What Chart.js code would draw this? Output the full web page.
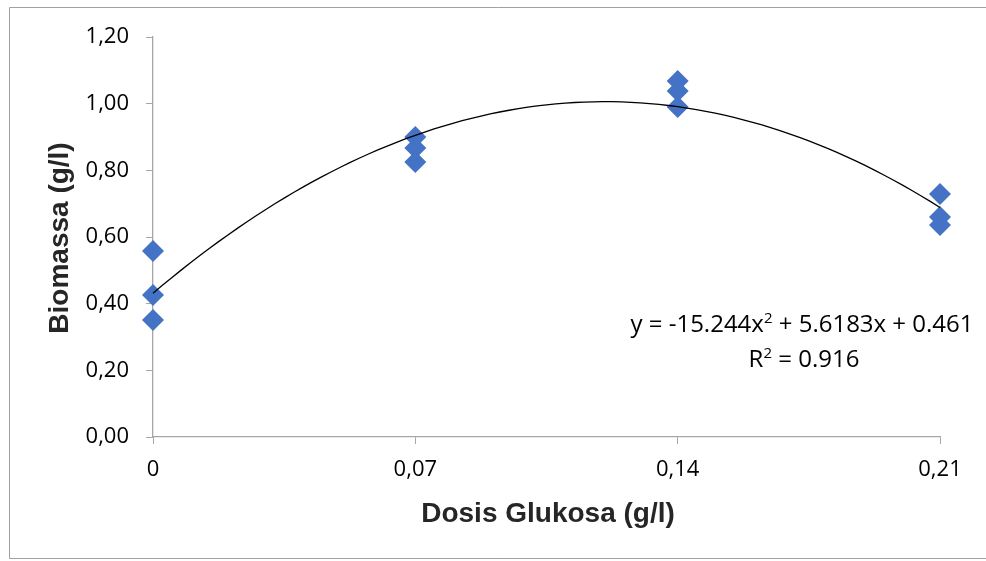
<!DOCTYPE html>
<html>
<head>
<meta charset="utf-8">
<script src="https://cdn.jsdelivr.net/npm/chart.js@4/dist/chart.umd.min.js"></script>
<style>
  html, body { margin: 0; padding: 0; background: #fff; }
  #wrap { width: 986px; height: 561px; position: relative; }
</style>
</head>
<body>
<div id="wrap"><canvas id="chart" width="986" height="561"></canvas></div>
<script>
// data: 3 replicates per glucose dose
const doses = [0, 0, 0, 0.07, 0.07, 0.07, 0.14, 0.14, 0.14, 0.21, 0.21, 0.21];
const biomass = [0.558, 0.426, 0.351, 0.900, 0.867, 0.825, 1.068, 1.038, 0.990, 0.729, 0.660, 0.636];
const xTickLabels = ["0", "0,07", "0,14", "0,21"];
const yTickLabels = ["0,00", "0,20", "0,40", "0,60", "0,80", "1,00", "1,20"];
const xTickValues = [0, 0.07, 0.14, 0.21];
const yTickValues = [0, 0.2, 0.4, 0.6, 0.8, 1.0, 1.2];
const equationLines = ["y = -15.244x", " + 5.6183x + 0.461"];
const r2Line = ["R", " = 0.916"];

const axisColor = "#a6a6a6";
const pointColor = "#4472c4";

// least squares quadratic (trendline) computed from the points
const fitQuadratic = (xs, ys) => {
  let s = [0, 0, 0, 0, 0], t = [0, 0, 0];
  xs.forEach((x, i) => {
    for (let k = 0; k < 5; k++) s[k] += Math.pow(x, k);
    for (let k = 0; k < 3; k++) t[k] += ys[i] * Math.pow(x, k);
  });
  const m = [
    [s[0], s[1], s[2], t[0]],
    [s[1], s[2], s[3], t[1]],
    [s[2], s[3], s[4], t[2]],
  ];
  for (let i = 0; i < 3; i++) {
    for (let j = i + 1; j < 3; j++) {
      const f = m[j][i] / m[i][i];
      for (let k = i; k < 4; k++) m[j][k] -= f * m[i][k];
    }
  }
  const c = [0, 0, 0];
  for (let i = 2; i >= 0; i--) {
    let v = m[i][3];
    for (let k = i + 1; k < 3; k++) v -= m[i][k] * c[k];
    c[i] = v / m[i][i];
  }
  return c;
};
const coef = fitQuadratic(doses, biomass);
const trend = [];
for (let i = 0; i <= 84; i++) {
  const x = (0.21 * i) / 84;
  trend.push({ x: x, y: coef[0] + coef[1] * x + coef[2] * x * x });
}

const extras = {
  id: "extras",
  afterDraw(chart) {
    const ctx = chart.ctx;
    ctx.save();
    // outer frame
    ctx.strokeStyle = "#a0a0a0";
    ctx.lineWidth = 1;
    ctx.beginPath();
    ctx.moveTo(990, 7.5);
    ctx.lineTo(9.5, 7.5);
    ctx.lineTo(9.5, 558.5);
    ctx.lineTo(990, 558.5);
    ctx.stroke();

    // axis titles
    ctx.fillStyle = "#262626";
    ctx.font = "bold 28px 'Liberation Sans', Arial, sans-serif";
    ctx.textAlign = "center";
    ctx.textBaseline = "middle";
    ctx.fillText("Dosis Glukosa (g/l)", 548, 514);
    ctx.translate(60, 238);
    ctx.rotate(-Math.PI / 2);
    ctx.fillText("Biomassa (g/l)", 0, 0);
    ctx.setTransform(1, 0, 0, 1, 0, 0);

    // trendline label
    ctx.fillStyle = "#000";
    ctx.textBaseline = "alphabetic";
    ctx.textAlign = "left";
    const big = "24px 'Open Sans', sans-serif";
    const sup = "15px 'Open Sans', sans-serif";
    const drawSup = (parts, cx, base) => {
      ctx.font = big;
      const w1 = ctx.measureText(parts[0]).width;
      const w3 = ctx.measureText(parts[1]).width;
      ctx.font = sup;
      const w2 = ctx.measureText("2").width;
      let x = cx - (w1 + w2 + w3) / 2;
      ctx.font = big;
      ctx.fillText(parts[0], x, base);
      ctx.font = sup;
      ctx.fillText("2", x + w1, base - 9);
      ctx.font = big;
      ctx.fillText(parts[1], x + w1 + w2, base);
    };
    drawSup(equationLines, 802, 332);
    drawSup(r2Line, 804, 367);
    ctx.restore();
  },
};

new Chart(document.getElementById("chart").getContext("2d"), {
  type: "scatter",
  data: {
    datasets: [
      {
        label: "Biomassa",
        data: doses.map((d, i) => ({ x: d, y: biomass[i] })),
        pointStyle: "rectRot",
        pointRadius: 11,
        pointHoverRadius: 11,
        backgroundColor: pointColor,
        borderColor: pointColor,
        borderWidth: 0,
        clip: false,
        order: 2,
      },
      {
        label: "Trend",
        data: trend,
        showLine: true,
        pointRadius: 0,
        borderColor: "#000",
        borderWidth: 1.3,
        tension: 0,
        clip: false,
        order: 1,
      },
    ],
  },
  options: {
    responsive: false,
    animation: false,
    layout: { padding: { top: 37, right: 46, left: 0, bottom: 0 } },
    plugins: { legend: { display: false }, tooltip: { enabled: false } },
    scales: {
      x: {
        type: "linear",
        min: 0,
        max: 0.21,
        afterBuildTicks: (scale) => {
          scale.ticks = xTickValues.map((v) => ({ value: v }));
        },
        afterFit: (scale) => { scale.height = 124; },
        grid: {
          display: true,
          drawOnChartArea: false,
          drawTicks: true,
          tickLength: 7,
          color: axisColor,
        },
        border: { color: axisColor, width: 1.3 },
        ticks: {
          color: "#000",
          font: { family: "'Open Sans', sans-serif", size: 22 },
          padding: 13,
          maxRotation: 0,
          callback: (v, i) => xTickLabels[i],
        },
      },
      y: {
        min: 0,
        max: 1.2,
        afterBuildTicks: (scale) => {
          scale.ticks = yTickValues.map((v) => ({ value: v }));
        },
        afterFit: (scale) => { scale.width = 153; },
        grid: {
          display: true,
          drawOnChartArea: false,
          drawTicks: true,
          tickLength: 7,
          color: axisColor,
        },
        border: { color: axisColor, width: 1.3 },
        ticks: {
          color: "#000",
          font: { family: "'Open Sans', sans-serif", size: 22 },
          padding: 17,
          callback: (v, i) => yTickLabels[i],
        },
      },
    },
  },
  plugins: [extras],
});
</script>
</body>
</html>
